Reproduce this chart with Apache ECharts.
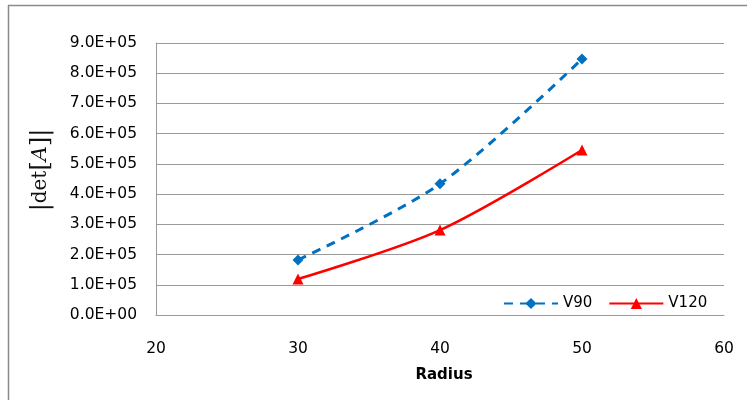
<!DOCTYPE html>
<html><head><meta charset="utf-8">
<script src="https://cdn.jsdelivr.net/npm/echarts@6/dist/echarts.min.js"></script>
<style>html,body{margin:0;padding:0;background:#fff}#c{width:747px;height:400px}</style>
</head><body><div id="c"></div>
<script>
var radius = [30, 40, 50];
var v90 = [182000, 434000, 847000];
var v120 = [119000, 281000, 546000];
var yTickLabels = ['0.0E+00','1.0E+05','2.0E+05','3.0E+05','4.0E+05','5.0E+05','6.0E+05','7.0E+05','8.0E+05','9.0E+05'];
var xTickLabels = ['20','30','40','50','60'];
var seriesNames = ['V90', 'V120'];

function pairs(xs, ys){ return xs.map(function(x,i){ return [x, ys[i]]; }); }

var chart = echarts.init(document.getElementById('c'));
var font = 'DejaVu Sans';
chart.setOption({
  animation: false,
  grid: {left: 156, right: 23, top: 43, bottom: 85},
  xAxis: {
    type: 'value', min: 20, max: 60, interval: 10,
    name: 'Radius', nameLocation: 'middle', nameGap: 53,
    nameTextStyle: {fontFamily: font, fontWeight: 'bold', fontSize: 15, color: '#000', padding: [0,0,0,8]},
    axisLine: {show: true, lineStyle: {color: '#9a9a9a', width: 1}},
    axisTick: {show: false},
    splitLine: {show: false},
    axisLabel: {margin: 26, fontFamily: font, fontSize: 15.5, color: '#000',
      formatter: function(v, i){ return xTickLabels[i]; }}
  },
  yAxis: {
    type: 'value', min: 0, max: 900000, interval: 100000,
    axisLine: {show: true, lineStyle: {color: '#9a9a9a', width: 1}},
    axisTick: {show: false},
    splitLine: {show: true, lineStyle: {color: '#9a9a9a', width: 1}},
    axisLabel: {margin: 19, fontFamily: font, fontSize: 15.5, color: '#000',
      formatter: function(v, i){ return yTickLabels[i]; }}
  },
  legend: {
    left: 498, top: 291, itemWidth: 54, itemHeight: 14, itemGap: 16,
    textStyle: {fontFamily: font, fontSize: 15, color: '#000'},
    data: seriesNames
  },
  graphic: [
    {type: 'line', shape: {x1: 8, y1: 5.5, x2: 747, y2: 5.5}, style: {stroke: '#8a8a8a', lineWidth: 1.5}, silent: true},
    {type: 'line', shape: {x1: 8.5, y1: 5, x2: 8.5, y2: 400}, style: {stroke: '#8a8a8a', lineWidth: 1.5}, silent: true},
    {type: 'text', x: 41, y: 170, rotation: Math.PI/2,
      style: {text: '{b||}{a|det}{b|[}{c|A}{b|]|}', align: 'center', verticalAlign: 'middle',
        rich: {
          a: {fontFamily: 'DejaVu Serif', fontSize: 20, fill: '#111'},
          b: {fontFamily: 'DejaVu Serif', fontSize: 24, fill: '#111'},
          c: {fontFamily: 'DejaVu Serif', fontStyle: 'italic', fontSize: 21, fill: '#111'}
        }}}
  ],
  series: [
    {name: seriesNames[0], type: 'line', smooth: 0.3, data: pairs(radius, v90),
      symbol: 'diamond', symbolSize: 11,
      itemStyle: {color: '#0070C0'},
      lineStyle: {color: '#0070C0', width: 3, type: [9, 7]}},
    {name: seriesNames[1], type: 'line', smooth: 0.3, data: pairs(radius, v120),
      symbol: 'triangle', symbolSize: 11,
      itemStyle: {color: '#FF0000'},
      lineStyle: {color: '#FF0000', width: 2.5}}
  ]
});
</script></body></html>
